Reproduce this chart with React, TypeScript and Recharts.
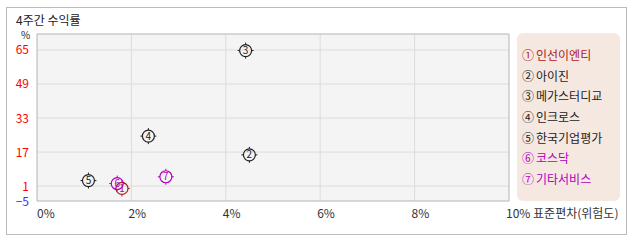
import React from 'react';
import { ScatterChart, Scatter, XAxis, YAxis, CartesianGrid, ReferenceArea } from 'recharts';

const title = '4주간 수익률';
const yUnit = '%';
const xAxisName = '표준편차(위험도)';
const companies = ['인선이엔티', '아이진', '메가스터디교', '인크로스', '한국기업평가', '코스닥', '기타서비스'];
const circled = ['①', '②', '③', '④', '⑤', '⑥', '⑦'];
const riskStd = [1.8, 4.5, 4.42, 2.36, 1.09, 1.7, 2.73];
const return4w = [-0.1, 15.7, 64.7, 24.5, 3.6, 2.2, 5.4];
const colors = ['#b02020', '#222222', '#222222', '#222222', '#222222', '#b000c0', '#b000c0'];
const yTicks = [-5, 1, 17, 33, 49, 65];
const xTicks = [0, 2, 4, 6, 8, 10];

const FONT = '"Noto Sans CJK KR", "Noto Sans", sans-serif';

const series = companies.map((name, i) => ({
  name,
  data: [{ x: riskStd[i], y: return4w[i], num: i + 1, color: colors[i] }],
}));

const Marker = (props: any) => {
  const { cx, cy, payload } = props;
  if (cx == null || cy == null) return null;
  const c = payload.color;
  const r = 6;
  return (
    <g>
      <circle cx={cx} cy={cy} r={r} fill="none" stroke={c} strokeWidth={1.2} />
      <line x1={cx} y1={cy - r} x2={cx} y2={cy - r - 2} stroke={c} strokeWidth={1} />
      <line x1={cx} y1={cy + r} x2={cx} y2={cy + r + 2} stroke={c} strokeWidth={1} />
      <line x1={cx - r} y1={cy} x2={cx - r - 2} y2={cy} stroke={c} strokeWidth={1} />
      <line x1={cx + r} y1={cy} x2={cx + r + 2} y2={cy} stroke={c} strokeWidth={1} />
      <text x={cx} y={cy + 3.6} textAnchor="middle" fontSize={10} fill={c} fontFamily={FONT}>
        {payload.num}
      </text>
    </g>
  );
};

const YTick = (props: any) => {
  const { x, y, payload } = props;
  const v = payload.value;
  return (
    <text
      x={x}
      y={y + (v < 0 ? 7 : 4.5)}
      textAnchor="end"
      fontSize={12}
      fill={v < 0 ? '#3333ff' : '#ff0000'}
      fontFamily={FONT}
    >
      {v < 0 ? '−' + Math.abs(v) : v}
    </text>
  );
};

const XTick = (props: any) => {
  const { x, y, payload } = props;
  const v = payload.value;
  const label = v === xTicks[xTicks.length - 1] ? `${v}% ${xAxisName}` : `${v}%`;
  return (
    <text x={v === 0 ? x : x - 3} y={y + 9} textAnchor="start" fontSize={12} fill="#333" fontFamily={FONT}>
      {label}
    </text>
  );
};

const LegendBox = () => (
  <div
    style={{
      position: 'absolute',
      left: 517,
      top: 33,
      width: 103,
      height: 168,
      background: '#f5e8e1',
      borderRadius: 6,
      boxSizing: 'border-box',
      paddingTop: 12,
      paddingLeft: 5,
      fontFamily: FONT,
      fontSize: 12,
    }}
  >
    {companies.map((n, i) => (
      <div key={n} style={{ color: colors[i], height: 20.7, lineHeight: '20.7px', whiteSpace: 'nowrap' }}>
        <span style={{ display: 'inline-block', width: 14 }}>{circled[i]}</span>
        {n}
      </div>
    ))}
  </div>
);

export default function App() {
  return (
    <div style={{ position: 'absolute', left: 0, top: 0, width: 638, height: 242, background: '#fff' }}>
      <div
        style={{
          position: 'absolute',
          left: 6,
          top: 7,
          width: 621,
          height: 228,
          border: '1px solid #bbbbbb',
          boxSizing: 'border-box',
        }}
      />
      <div
        style={{
          position: 'absolute',
          left: 16,
          top: 11,
          fontFamily: FONT,
          fontSize: 12,
          lineHeight: '18px',
          color: '#222',
        }}
      >
        {title}
      </div>
      <div
        style={{
          position: 'absolute',
          left: 21,
          top: 30,
          fontFamily: FONT,
          fontSize: 10,
          lineHeight: '10px',
          color: '#222',
        }}
      >
        {yUnit}
      </div>
      <div style={{ position: 'absolute', left: 0, top: 0 }}>
        <ScatterChart width={638} height={242} margin={{ top: 34, right: 129, bottom: 21, left: 7 }}>
          <CartesianGrid
            fill="#f4f4f4"
            stroke="#dcdcdc"
            horizontalValues={[1, 17, 33, 49, 65]}
            verticalValues={[2, 4, 6, 8]}
          />
          <XAxis
            type="number"
            dataKey="x"
            domain={[0, 10]}
            ticks={xTicks}
            height={20}
            axisLine={false}
            tickLine={false}
            tick={<XTick />}
            interval={0}
          />
          <YAxis
            type="number"
            dataKey="y"
            domain={[-6, 72.5]}
            ticks={yTicks}
            width={30}
            axisLine={false}
            tickLine={false}
            tick={<YTick />}
            interval={0}
          />
          <ReferenceArea x1={0} x2={10} y1={-6} y2={72.5} fill="none" stroke="#b4b4b4" strokeWidth={1} ifOverflow="visible" />
          {series.map((s) => (
            <Scatter key={s.name} name={s.name} data={s.data} shape={<Marker />} isAnimationActive={false} />
          ))}
        </ScatterChart>
      </div>
      <LegendBox />
    </div>
  );
}
